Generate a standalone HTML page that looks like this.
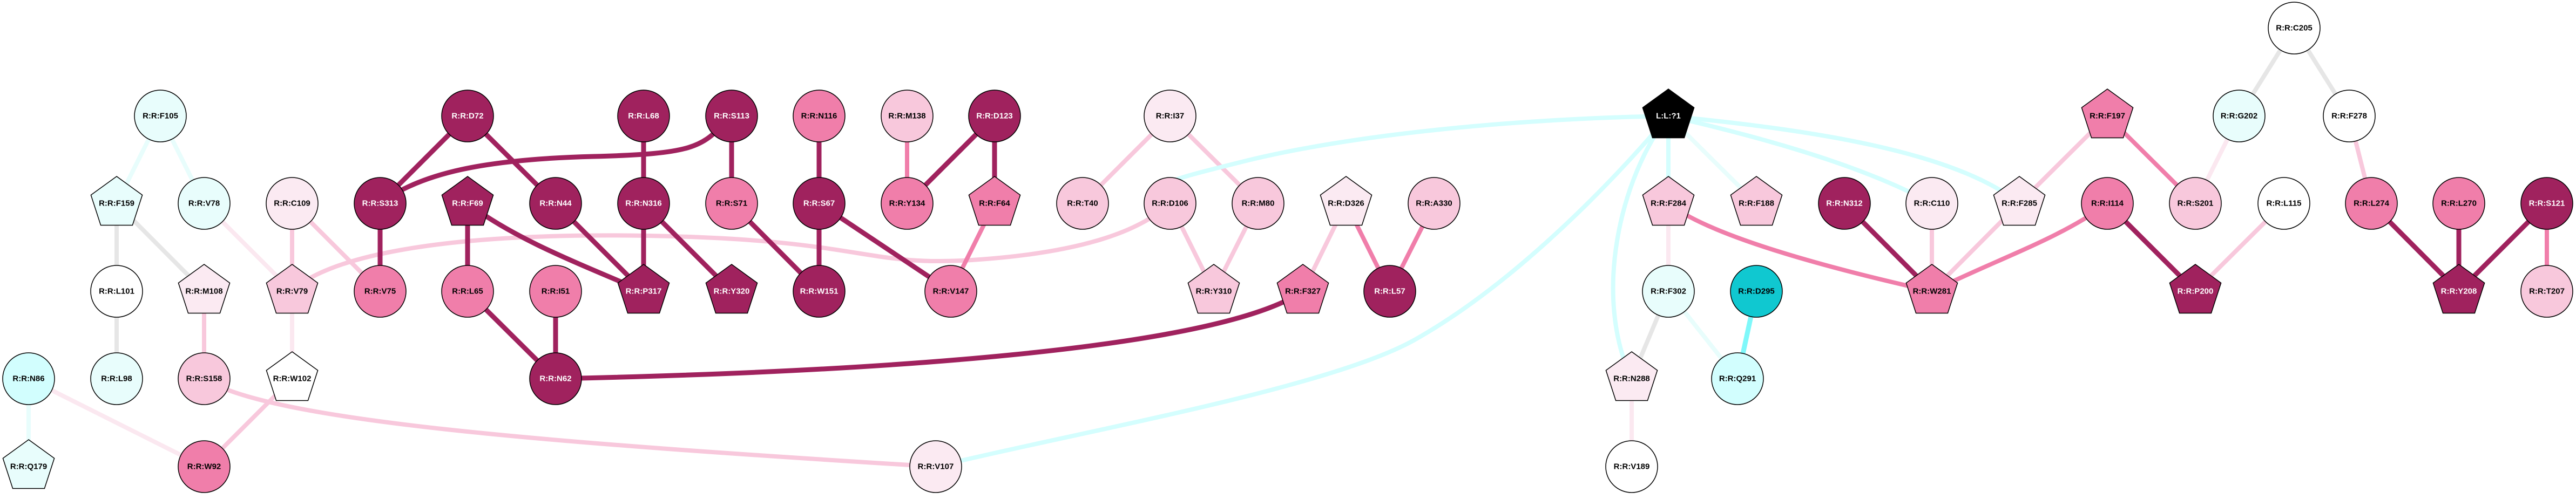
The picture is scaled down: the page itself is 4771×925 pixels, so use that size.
<!DOCTYPE html>
<html><head><meta charset="utf-8"><style>
html,body{margin:0;padding:0;background:#fff}
svg text{font-family:"Liberation Sans",Arial,sans-serif;font-weight:bold;font-size:15px;text-anchor:middle;dominant-baseline:central}
</style></head><body>
<svg id="g" width="4771" height="920" viewBox="0 0 4771 920" xmlns="http://www.w3.org/2000/svg">
<g fill="none" stroke-linecap="butt">
<g stroke="#E8FDFC" stroke-width="8">
<line x1="297" y1="215" x2="216" y2="377"/>
<line x1="297" y1="215" x2="378" y2="377"/>
<line x1="53" y1="702" x2="53" y2="865"/>
<line x1="3090" y1="215" x2="3253" y2="377"/>
<line x1="3090" y1="540" x2="3218" y2="702"/>
</g>
<g stroke="#E6E6E6" stroke-width="8">
<line x1="216" y1="377" x2="216" y2="540"/>
<line x1="216" y1="377" x2="378" y2="540"/>
<line x1="216" y1="540" x2="216" y2="702"/>
<line x1="3090" y1="540" x2="3022" y2="702"/>
<line x1="4249" y1="52" x2="4147" y2="215"/>
<line x1="4249" y1="52" x2="4351" y2="215"/>
</g>
<g stroke="#FBE8F0" stroke-width="8">
<line x1="378" y1="377" x2="541" y2="540"/>
<line x1="541" y1="540" x2="541" y2="702"/>
<line x1="53" y1="702" x2="378" y2="865"/>
<line x1="3090" y1="377" x2="3090" y2="540"/>
<line x1="3022" y1="702" x2="3022" y2="865"/>
<line x1="4147" y1="215" x2="4066" y2="377"/>
</g>
<g stroke="#F8C8DC" stroke-width="8">
<line x1="541" y1="377" x2="541" y2="540"/>
<line x1="541" y1="377" x2="704" y2="540"/>
<line x1="378" y1="540" x2="378" y2="702"/>
<line x1="541" y1="702" x2="378" y2="865"/>
<path d="M378,702 C500,780 1000,820 1733,865"/>
<path d="M541,540 C600,480 800,430 1200,437 S1600,495 1800,482 S2110,430 2167,377"/>
<line x1="2167" y1="215" x2="2005" y2="377"/>
<line x1="2167" y1="215" x2="2330" y2="377"/>
<line x1="2167" y1="377" x2="2248" y2="540"/>
<line x1="2330" y1="377" x2="2248" y2="540"/>
<line x1="2493" y1="377" x2="2413" y2="540"/>
<line x1="3578" y1="377" x2="3578" y2="540"/>
<line x1="3740" y1="377" x2="3578" y2="540"/>
<line x1="3903" y1="215" x2="3740" y2="377"/>
<line x1="4351" y1="215" x2="4392" y2="377"/>
<line x1="4230" y1="377" x2="4066" y2="540"/>
</g>
<g stroke="#F07EAA" stroke-width="8">
<line x1="1680" y1="215" x2="1680" y2="377"/>
<line x1="1842" y1="377" x2="1761" y2="540"/>
<line x1="2493" y1="377" x2="2574" y2="540"/>
<line x1="2656" y1="377" x2="2574" y2="540"/>
<path d="M3090,377 C3170,440 3400,500 3578,540"/>
<path d="M3903,377 C3820,440 3700,480 3578,540"/>
<line x1="3903" y1="215" x2="4066" y2="377"/>
<line x1="4717" y1="377" x2="4717" y2="540"/>
</g>
<g stroke="#D4FEFE" stroke-width="8">
<path d="M3090,215 C2800,220 2500,250 2300,300 S2190,330 2167,377"/>
<path d="M3090,215 C2950,380 2780,540 2620,630 S2000,800 1733,865"/>
<path d="M3090,215 C3000,330 2950,550 3022,702"/>
<line x1="3090" y1="215" x2="3090" y2="377"/>
<path d="M3090,215 Q3420,290 3578,377"/>
<path d="M3090,215 C3350,240 3620,280 3740,377"/>
</g>
<g stroke="#7FF8FA" stroke-width="9">
<line x1="3253" y1="540" x2="3218" y2="702"/>
</g>
<g stroke="#A0225E" stroke-width="9">
<line x1="704" y1="377" x2="866" y2="215"/>
<line x1="704" y1="377" x2="704" y2="540"/>
<path d="M704,377 C780,320 900,295 1100,290 S1300,270 1355,215"/>
<line x1="866" y1="215" x2="1029" y2="377"/>
<line x1="866" y1="377" x2="866" y2="540"/>
<path d="M866,377 C950,440 1050,480 1192,540"/>
<line x1="1029" y1="377" x2="1192" y2="540"/>
<line x1="1192" y1="215" x2="1192" y2="540"/>
<line x1="1192" y1="377" x2="1355" y2="540"/>
<line x1="866" y1="540" x2="1029" y2="702"/>
<line x1="1029" y1="540" x2="1029" y2="702"/>
<path d="M1029,702 C1600,690 2250,650 2413,540"/>
<line x1="1355" y1="215" x2="1355" y2="377"/>
<line x1="1355" y1="377" x2="1517" y2="540"/>
<line x1="1517" y1="215" x2="1517" y2="540"/>
<line x1="1517" y1="377" x2="1761" y2="540"/>
<line x1="1842" y1="215" x2="1680" y2="377"/>
<line x1="1842" y1="215" x2="1842" y2="377"/>
<line x1="3416" y1="377" x2="3578" y2="540"/>
<line x1="3903" y1="377" x2="4066" y2="540"/>
<line x1="4392" y1="377" x2="4554" y2="540"/>
<line x1="4554" y1="377" x2="4554" y2="540"/>
<line x1="4717" y1="377" x2="4554" y2="540"/>
</g>
</g>
<g stroke="#000" stroke-width="1.5" id="nodes">
<circle cx="297" cy="215" r="48" fill="#E8FDFC"/>
<circle cx="378" cy="377" r="48" fill="#E8FDFC"/>
<circle cx="541" cy="377" r="48" fill="#FBEAF2"/>
<circle cx="704" cy="377" r="48" fill="#A0225E"/>
<circle cx="1029" cy="377" r="48" fill="#A0225E"/>
<circle cx="1192" cy="377" r="48" fill="#A0225E"/>
<circle cx="866" cy="215" r="48" fill="#A0225E"/>
<circle cx="1192" cy="215" r="48" fill="#A0225E"/>
<circle cx="216" cy="540" r="48" fill="#FFFFFF"/>
<circle cx="704" cy="540" r="48" fill="#F07EAA"/>
<circle cx="866" cy="540" r="48" fill="#F07EAA"/>
<circle cx="1029" cy="540" r="48" fill="#F07EAA"/>
<circle cx="53" cy="702" r="48" fill="#D2FEFE"/>
<circle cx="216" cy="702" r="48" fill="#E8FDFC"/>
<circle cx="378" cy="702" r="48" fill="#F8C8DC"/>
<circle cx="1029" cy="702" r="48" fill="#A0225E"/>
<circle cx="378" cy="865" r="48" fill="#F07EAA"/>
<circle cx="1355" cy="215" r="48" fill="#A0225E"/>
<circle cx="1517" cy="215" r="48" fill="#F07EAA"/>
<circle cx="1680" cy="215" r="48" fill="#F8C8DC"/>
<circle cx="1842" cy="215" r="48" fill="#A0225E"/>
<circle cx="2167" cy="215" r="48" fill="#FBEAF2"/>
<circle cx="1355" cy="377" r="48" fill="#F07EAA"/>
<circle cx="1517" cy="377" r="48" fill="#A0225E"/>
<circle cx="1680" cy="377" r="48" fill="#F07EAA"/>
<circle cx="2005" cy="377" r="48" fill="#F8C8DC"/>
<circle cx="2167" cy="377" r="48" fill="#F8C8DC"/>
<circle cx="2330" cy="377" r="48" fill="#F8C8DC"/>
<circle cx="1517" cy="540" r="48" fill="#A0225E"/>
<circle cx="1761" cy="540" r="48" fill="#F07EAA"/>
<circle cx="1733" cy="865" r="48" fill="#FBEAF2"/>
<circle cx="2656" cy="377" r="48" fill="#F8C8DC"/>
<circle cx="2574" cy="540" r="48" fill="#A0225E"/>
<circle cx="3416" cy="377" r="48" fill="#A0225E"/>
<circle cx="3578" cy="377" r="48" fill="#FBEAF2"/>
<circle cx="3090" cy="540" r="48" fill="#E8FDFC"/>
<circle cx="3253" cy="540" r="48" fill="#10C8D0"/>
<circle cx="3218" cy="702" r="48" fill="#D2FEFE"/>
<circle cx="3022" cy="865" r="48" fill="#FFFFFF"/>
<circle cx="4249" cy="52" r="48" fill="#FFFFFF"/>
<circle cx="4147" cy="215" r="48" fill="#E8FDFC"/>
<circle cx="4351" cy="215" r="48" fill="#FFFFFF"/>
<circle cx="3903" cy="377" r="48" fill="#F07EAA"/>
<circle cx="4066" cy="377" r="48" fill="#F8C8DC"/>
<circle cx="4230" cy="377" r="48" fill="#FFFFFF"/>
<circle cx="4392" cy="377" r="48" fill="#F07EAA"/>
<circle cx="4554" cy="377" r="48" fill="#F07EAA"/>
<circle cx="4717" cy="377" r="48" fill="#A0225E"/>
<circle cx="4717" cy="540" r="48" fill="#F8C8DC"/>
</g>
<script>
var P=[[216,377,"#E8FDFC"],[866,377,"#A0225E"],[378,540,"#FBEAF2"],[541,540,"#F8C8DC"],[1192,540,"#A0225E"],[541,702,"#FFFFFF"],[53,865,"#E8FDFC"],[1842,377,"#F07EAA"],[1355,540,"#A0225E"],[2248,540,"#F8C8DC"],[2413,540,"#F07EAA"],[3090,215,"#000000"],[2493,377,"#FBEAF2"],[3090,377,"#F8C8DC"],[3253,377,"#F8C8DC"],[3578,540,"#F07EAA"],[3022,702,"#FBEAF2"],[3903,215,"#F07EAA"],[3740,377,"#FBEAF2"],[4066,540,"#A0225E"],[4554,540,"#A0225E"]];
var ns="http://www.w3.org/2000/svg",g=document.getElementById("nodes");
P.forEach(function(p){var R=50,pts=[];for(var i=0;i<5;i++){var a=-Math.PI/2+i*2*Math.PI/5;pts.push((p[0]+R*Math.cos(a)).toFixed(1)+","+(p[1]+R*Math.sin(a)).toFixed(1));}
var e=document.createElementNS(ns,"polygon");e.setAttribute("points",pts.join(" "));e.setAttribute("fill",p[2]);g.appendChild(e);});
</script>
<g fill="#000">
<text x="297" y="215">R:R:F105</text>
<text x="216" y="377">R:R:F159</text>
<text x="378" y="377">R:R:V78</text>
<text x="541" y="377">R:R:C109</text>
<text x="216" y="540">R:R:L101</text>
<text x="378" y="540">R:R:M108</text>
<text x="541" y="540">R:R:V79</text>
<text x="704" y="540">R:R:V75</text>
<text x="866" y="540">R:R:L65</text>
<text x="1029" y="540">R:R:I51</text>
<text x="53" y="702">R:R:N86</text>
<text x="216" y="702">R:R:L98</text>
<text x="378" y="702">R:R:S158</text>
<text x="541" y="702">R:R:W102</text>
<text x="53" y="865">R:R:Q179</text>
<text x="378" y="865">R:R:W92</text>
<text x="1517" y="215">R:R:N116</text>
<text x="1680" y="215">R:R:M138</text>
<text x="2167" y="215">R:R:I37</text>
<text x="1355" y="377">R:R:S71</text>
<text x="1680" y="377">R:R:Y134</text>
<text x="1842" y="377">R:R:F64</text>
<text x="2005" y="377">R:R:T40</text>
<text x="2167" y="377">R:R:D106</text>
<text x="2330" y="377">R:R:M80</text>
<text x="1761" y="540">R:R:V147</text>
<text x="2248" y="540">R:R:Y310</text>
<text x="2413" y="540">R:R:F327</text>
<text x="1733" y="865">R:R:V107</text>
<text x="2493" y="377">R:R:D326</text>
<text x="2656" y="377">R:R:A330</text>
<text x="3090" y="377">R:R:F284</text>
<text x="3253" y="377">R:R:F188</text>
<text x="3578" y="377">R:R:C110</text>
<text x="3090" y="540">R:R:F302</text>
<text x="3253" y="540">R:R:D295</text>
<text x="3578" y="540">R:R:W281</text>
<text x="3022" y="702">R:R:N288</text>
<text x="3218" y="702">R:R:Q291</text>
<text x="3022" y="865">R:R:V189</text>
<text x="4249" y="52">R:R:C205</text>
<text x="3903" y="215">R:R:F197</text>
<text x="4147" y="215">R:R:G202</text>
<text x="4351" y="215">R:R:F278</text>
<text x="3740" y="377">R:R:F285</text>
<text x="3903" y="377">R:R:I114</text>
<text x="4066" y="377">R:R:S201</text>
<text x="4230" y="377">R:R:L115</text>
<text x="4392" y="377">R:R:L274</text>
<text x="4554" y="377">R:R:L270</text>
<text x="4717" y="540">R:R:T207</text>
</g>
<g fill="#fff">
<text x="866" y="215">R:R:D72</text>
<text x="1192" y="215">R:R:L68</text>
<text x="704" y="377">R:R:S313</text>
<text x="866" y="377">R:R:F69</text>
<text x="1029" y="377">R:R:N44</text>
<text x="1192" y="377">R:R:N316</text>
<text x="1192" y="540">R:R:P317</text>
<text x="1029" y="702">R:R:N62</text>
<text x="1355" y="215">R:R:S113</text>
<text x="1842" y="215">R:R:D123</text>
<text x="1517" y="377">R:R:S67</text>
<text x="1355" y="540">R:R:Y320</text>
<text x="1517" y="540">R:R:W151</text>
<text x="2574" y="540">R:R:L57</text>
<text x="3090" y="215">L:L:?1</text>
<text x="3416" y="377">R:R:N312</text>
<text x="4066" y="540">R:R:P200</text>
<text x="4554" y="540">R:R:Y208</text>
<text x="4717" y="377">R:R:S121</text>
</g>
</svg>
</body></html>
